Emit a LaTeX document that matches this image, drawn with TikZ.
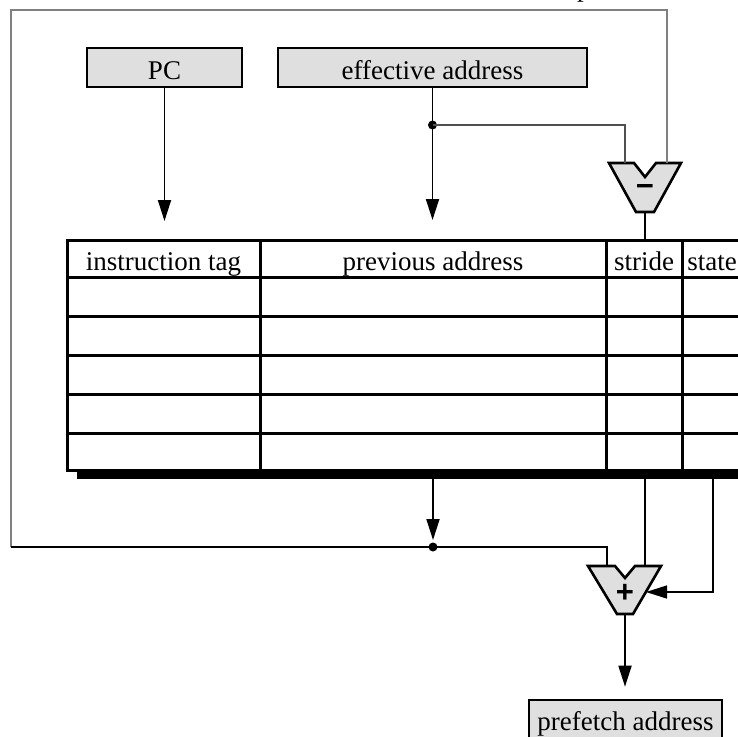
\documentclass[tikz,border=0pt]{standalone}
\usepackage{fontspec}
\setmainfont{Liberation Serif}
\newfontfamily\signfont{Liberation Sans Bold}
\usetikzlibrary{arrows.meta,calc}
\definecolor{boxgrey}{HTML}{DFDFDF}
\definecolor{loopgrey}{HTML}{808080}
\definecolor{branchgrey}{HTML}{505050}
\tikzset{
  regbox/.style={draw=black, line width=2.6pt, fill=boxgrey, inner sep=0pt, font=\fontsize{27}{32}\selectfont},
  hdr/.style={inner sep=0pt, anchor=base, font=\fontsize{27}{32}\selectfont},
  tblline/.style={line width=3pt, black},
  arr/.style={line width=1.8pt, -{Triangle[length=21pt,width=13pt]}},
  thinwire/.style={line width=1.5pt, black},
  loopwire/.style={line width=2pt, loopgrey},
  branchwire/.style={line width=1.5pt, branchgrey},
  alu/.style={draw=black, line width=2.6pt, fill=boxgrey, line join=miter},
  junction/.style={fill=black},
  sign/.style={inner sep=0pt, font=\signfont\fontsize{31}{31}\selectfont}
}
\begin{document}
\begin{tikzpicture}[x=1pt,y=-1pt]
\useasboundingbox (0,0) rectangle (738,736);
\clip (0,0) rectangle (738,736);

% top cut-off text fragment
\node[anchor=base west, inner sep=0pt, font=\fontsize{27}{32}\selectfont] (ptop) at (577,-3) {p};

% registers
\node[regbox, minimum width=155pt, minimum height=39pt] (pc) at (164.5,67.5) {};
\node[regbox, minimum width=309pt, minimum height=39pt] (ea) at (432.5,67.5) {};
\node[regbox, minimum width=193pt, minimum height=39pt] (pf) at (625.5,719.5) {};
\node[hdr] (pclab) at (164.5,79) {PC};
\node[hdr] (ealab) at (432.5,79) {effective address};
\node[hdr] (pflab) at (625.5,730) {prefetch address};

% table
\fill[black] (77,470) rectangle (750,478.5);
\draw[tblline, fill=white] (67,240) rectangle (750,470);
\foreach \yy in {277,316,355,394,433} \draw[tblline] (67,\yy) -- (750,\yy);
\foreach \xx in {260,606,682} \draw[tblline] (\xx,240) -- (\xx,470);
\node[hdr] (tag) at (163.5,270) {instruction tag};
\node[hdr] (prev) at (433,270) {previous address};
\node[hdr] (stride) at (644,270) {stride};
\node[hdr] (state) at (712,270) {state};
\coordinate (tagtop) at (163.5,240);
\coordinate (prevtop) at (433,240);
\coordinate (stridetop) at (645,240);

% subtractor
\draw[alu] (609,163) -- (634,163) -- (645,177) -- (656,163) -- (681,163)
  -- (654,212) -- (636,212) -- cycle;
\node[sign] (minus) at (645,190) {−};
\coordinate (subL) at (625,163);
\coordinate (subR) at (667,163);
\coordinate (subB) at (645,212);

% adder
\draw[alu] (588,566) -- (615,566) -- (625,578) -- (635,566) -- (661,566)
  -- (633,614) -- (617,614) -- cycle;
\node[sign] (plus) at (625,593) {+};
\coordinate (addL) at (607,566);
\coordinate (addM) at (645,566);
\coordinate (addR) at (646,592);
\coordinate (addB) at (625,614);

% junctions and corners
\coordinate (j1) at (432.5,125);
\coordinate (j2) at (433,547);
\coordinate (loopL) at (11,547);
\coordinate (loopTR) at (667,10);
\coordinate (tb1) at (433,478);
\coordinate (tb2) at (645,478);
\coordinate (tb3) at (713,478);

% connectors
\draw[arr, shorten >=19pt] (pc.south) -- (pc.south |- tagtop);
\draw[arr, shorten >=20pt] (ea.south) -- (ea.south |- prevtop);
\fill[junction] (j1) circle (4.5pt);
\draw[branchwire] (j1) -| (subL);
\draw[loopwire] (loopL) |- (loopTR) -- (subR);
\draw[line width=2.2pt] (subB) -- (stridetop);
\draw[thinwire] (loopL) -- (j2) -| (addL);
\draw[arr, shorten >=7pt] (tb1) -- (j2);
\fill[junction] (j2) circle (4.5pt);
\draw[thinwire] (tb2) -- (addM);
\draw[arr, line width=1.5pt] (tb3) |- (addR);
\draw[arr, shorten >=12pt] (addB) -- (addB |- pf.north);
\end{tikzpicture}
\end{document}
